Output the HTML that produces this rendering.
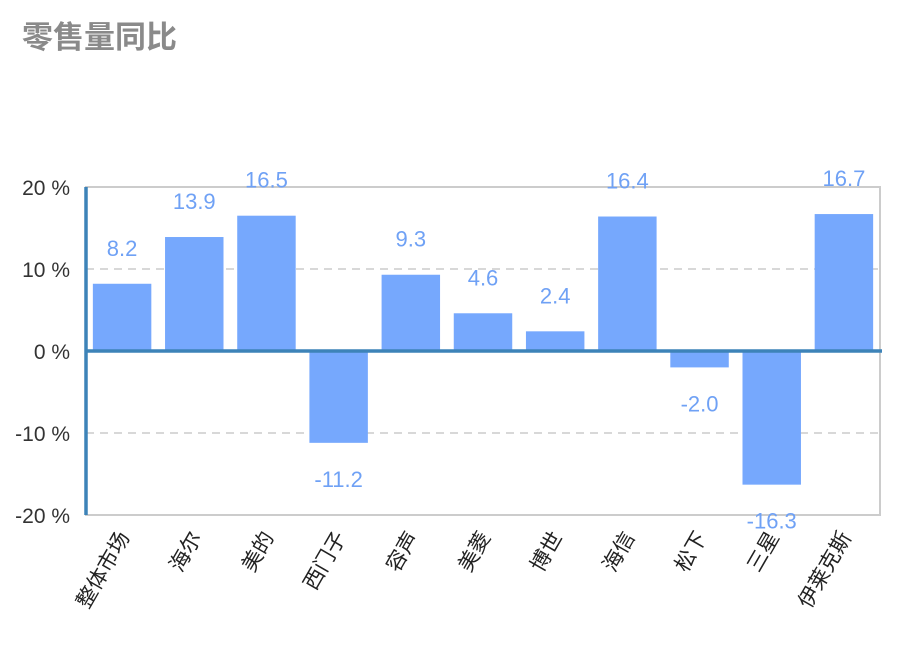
<!DOCTYPE html>
<html><head><meta charset="utf-8">
<style>
body{margin:0;background:#fff;width:922px;height:653px;overflow:hidden;font-family:"Liberation Sans","Noto Sans CJK SC",sans-serif;}
#title{position:absolute;left:22px;top:12px;font-size:31px;color:#8a8a8a;font-weight:bold;font-family:"Liberation Sans","Noto Sans CJK SC",sans-serif;}
</style></head><body>
<div id="title">零售量同比</div>
<svg id="chart" width="922" height="653" style="position:absolute;left:0;top:0"></svg>
<script>
const categories=["整体市场","海尔","美的","西门子","容声","美菱","博世","海信","松下","三星","伊莱克斯"];
const values=[8.2,13.9,16.5,-11.2,9.3,4.6,2.4,16.4,-2.0,-16.3,16.7];
const ticks=[20,10,0,-10,-20];
const tickLabels=["20 %","10 %","0 %","-10 %","-20 %"];
const NS="http://www.w3.org/2000/svg";
const svg=document.getElementById('chart');
const L=86,R=880,T=187,B=515;
const y=v=>T+(20-v)/40*(B-T);
const band=(R-L)/categories.length;
const xc=i=>L+band*(i+0.5);
function mk(t,a,p){const e=document.createElementNS(NS,t);for(const k in a)e.setAttribute(k,a[k]);(p||svg).appendChild(e);return e;}
// frame
let f=mk('rect',{x:L,y:T,width:R-L,height:B-T,fill:'none',stroke:'#cccccc','stroke-width':2});


ticks.forEach((t,i)=>{
  if(t===10||t===-10){
    let g=mk('line',{x1:L,x2:R,y1:y(t),y2:y(t),stroke:'#cccccc','stroke-width':1.5,'stroke-dasharray':'8,6'});
    
    
  }
  let tx=mk('text',{x:70,y:y(t)+8,'text-anchor':'end','font-size':21,fill:'#333'});
  tx.textContent=tickLabels[i];
  
  
});
const bw=band*0.81;
values.forEach((v,i)=>{
  const y0=y(0),yv=y(v);
  let r=mk('rect',{x:xc(i)-bw/2,y:Math.min(y0,yv),width:bw,height:Math.abs(yv-y0),fill:'#76a8fd'});
  
  
  let lb=mk('text',{x:xc(i),y:v>=0?yv-28:yv+44,'text-anchor':'middle','font-size':22,fill:'#6fa1f5'});
  lb.textContent=v.toFixed(1);
  
  
  let xl=mk('text',{transform:`translate(${xc(i)+8},${B+22}) rotate(-60)`,'text-anchor':'end','font-size':21,fill:'#222'});
  xl.textContent=categories[i];
  
  
});
let z=mk('line',{x1:L,x2:R+2,y1:y(0),y2:y(0),stroke:'#3d83b8','stroke-width':3.5});


let ax=mk('line',{x1:L,x2:L,y1:T,y2:B,stroke:'#3d83b8','stroke-width':3.5});


</script>
</body></html>
